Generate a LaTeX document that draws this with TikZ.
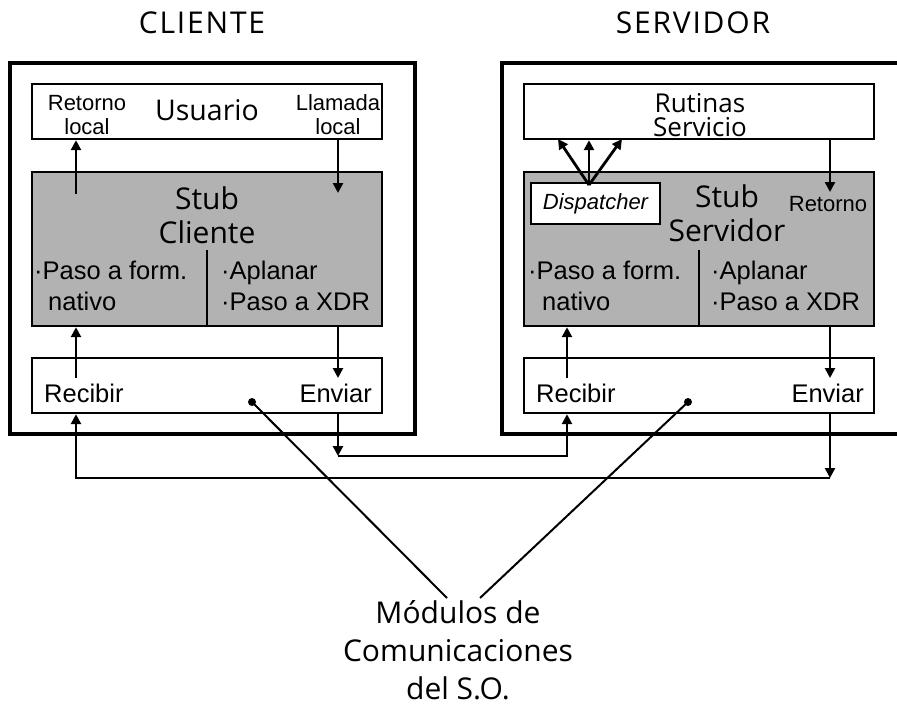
\documentclass[tikz,border=0pt]{standalone}
\usepackage{fontspec}
\setmainfont{Liberation Sans}
\newfontfamily\anchafont{Open Sans}
\usetikzlibrary{arrows.meta}
\newcommand\fEncab{\anchafont\addfontfeature{LetterSpace=6}\fontsize{30}{34}\selectfont}
\newcommand\fTitulo{\anchafont\fontsize{30}{34}\selectfont}
\newcommand\fMedio{\anchafont\fontsize{28.5}{34}\selectfont}
\newcommand\fChico{\fontsize{22}{24}\selectfont}
\newcommand\fNormal{\fontsize{25.5}{31}\selectfont}

\begin{document}
\begin{tikzpicture}[x=1pt,y=-1pt,
  encab/.style={font=\fEncab},
  titulo/.style={font=\fTitulo},
  medio/.style={font=\fMedio},
  chico/.style={font=\fChico},
  normalito/.style={font=\fNormal},
  caja/.style={draw,line width=2.4pt,inner sep=0pt,minimum width=350pt,minimum height=55pt},
  stub/.style={caja,fill=gray!60,minimum height=154pt},
  marco/.style={draw,line width=3.5pt,inner sep=0pt,minimum height=371pt},
  flecha/.style={line width=2.8pt,-{Triangle[length=10pt,width=10pt]}},
  guia/.style={line width=2pt},
  every node/.style={inner sep=0pt}]
\useasboundingbox (0,0) rectangle (897,707);

\node[encab] (cli) at (202,23) {CLIENTE};
\node[encab] (ser) at (693,23) {SERVIDOR};

\node[marco,minimum width=405pt] (marcoC) at (212.5,248.5) {};
\node[marco,minimum width=410pt] (marcoS) at (707,248.5) {};

\node[caja] (usuC) at (207,111.5) {};
\node[stub] (stubC) at (207,249) {};
\node[caja] (comC) at (207,385.5) {};
\node[caja] (rutS) at (699,111.5) {};
\node[stub] (stubS) at (699,249) {};
\node[caja] (comS) at (699,385.5) {};
\node[caja,chico,fill=white,minimum width=129pt,minimum height=41pt] (disp) at (595.5,203.5) {\itshape Dispatcher};

\draw[line width=2pt] (207,250) -- (207,326);
\draw[line width=2pt] (699,250) -- (699,326);

\node[medio] (usuT) at (207,110) {Usuario};
\node[chico,align=center] (retL) at (87,115) {Retorno\\local};
\node[chico,align=center] (llaL) at (338,115) {Llamada\\local};
\node[titulo,align=center] (stubCT) at (207,215) {Stub\\Cliente};
\node[normalito,align=left,anchor=west] (pasoC) at (34,285.5) {·Paso a form.\\\hspace*{14pt}nativo};
\node[normalito,align=left,anchor=west] (aplC) at (221,285.5) {·Aplanar\\·Paso a XDR};
\node[normalito,anchor=west] (recC) at (44,393) {Recibir};
\node[normalito,anchor=east] (envC) at (372,393) {Enviar};

\node[align=center,font=\anchafont\fontsize{26}{24}\selectfont] (rutT) at (700,115) {Rutinas\\Servicio};
\node[titulo,align=center] (stubST) at (727,213.5) {Stub\\Servidor};
\node[chico] (retS) at (828,204) {Retorno};
\node[normalito,align=left,anchor=west] (pasoS) at (528,285.5) {·Paso a form.\\\hspace*{14pt}nativo};
\node[normalito,align=left,anchor=west] (aplS) at (711,285.5) {·Aplanar\\·Paso a XDR};
\node[normalito,anchor=west] (recS) at (536,393) {Recibir};
\node[normalito,anchor=east] (envS) at (864,393) {Enviar};

\node[align=center,font=\anchafont\fontsize{30}{38}\selectfont] (modulos) at (458,650) {Módulos de\\Comunicaciones\\del S.O.};

\coordinate (xa) at (76,194);
\coordinate (xb) at (338,193);
\coordinate (xc) at (76,378);
\coordinate (xd) at (338,378);
\coordinate (xe) at (338,456);
\coordinate (xf) at (567,456);
\coordinate (xg) at (76,478);
\coordinate (xh) at (830,478);
\coordinate (ya) at (830,192);
\coordinate (yb) at (567,378);
\coordinate (yc) at (830,378);
\coordinate (yd) at (589,185);
\coordinate (puntoC) at (252,402);
\coordinate (puntoS) at (688,402);
\coordinate (finC) at (447,598);
\coordinate (finS) at (480,598);

\draw[flecha] (xa) -- (xa |- usuC.south);
\draw[flecha] (xb |- usuC.south) -- (xb);
\draw[flecha] (xc) -- (xc |- stubC.south);
\draw[flecha] (xd |- stubC.south) -- (xd);
\draw[flecha] (xe |- comC.south) -- (xe);
\draw[flecha] (xe) -- (xf) -- (xf |- comS.south);
\draw[flecha] (xh |- comS.south) -- (xh);
\draw[flecha] (xh) -- (xg) -- (xg |- comC.south);

\draw[flecha] (yd) -- (558,139);
\draw[flecha] (yd) -- (yd |- rutS.south);
\draw[flecha] (yd) -- (622,139);
\draw[flecha] (ya |- rutS.south) -- (ya);
\draw[flecha] (yb) -- (yb |- stubS.south);
\draw[flecha] (yc |- stubS.south) -- (yc);

\fill (puntoC) circle (4);
\fill (puntoS) circle (4);
\draw[guia] (puntoC) -- (finC);
\draw[guia] (puntoS) -- (finS);
\end{tikzpicture}
\end{document}
